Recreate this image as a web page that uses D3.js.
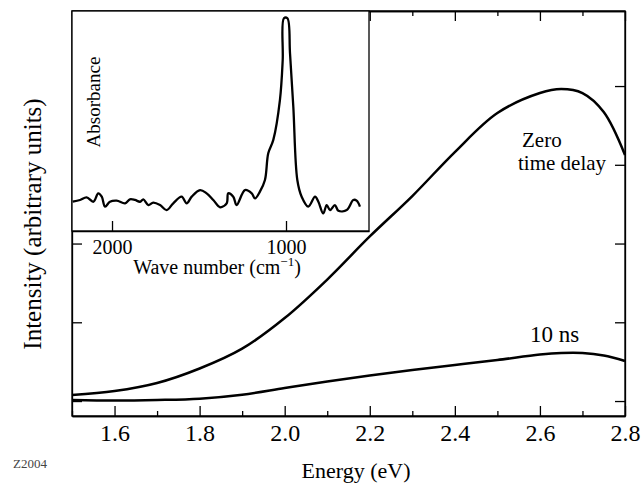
<!DOCTYPE html>
<html>
<head>
<meta charset="utf-8">
<script src="https://cdn.jsdelivr.net/npm/d3@7.9.0/dist/d3.min.js"></script>
<style>
  body { margin: 0; background: #fff; }
  svg text, svg tspan { font-family: "Liberation Serif", "Times New Roman", Times, serif !important; }
</style>
</head>
<body>
<svg width="641" height="487"></svg>
<script>
// main chart: emission intensity vs photon energy
let energy = [1.5, 1.6, 1.7, 1.8, 1.9, 2.0, 2.1, 2.2, 2.3, 2.4, 2.5, 2.6, 2.65, 2.7, 2.75, 2.8];
let zeroDelay = [0.076, 0.127, 0.229, 0.413, 0.665, 1.054, 1.543, 2.09, 2.603, 3.162, 3.657, 3.911, 3.962, 3.911, 3.67, 3.124];
let tenNs = [0.013, 0.006, 0.013, 0.03, 0.08, 0.165, 0.248, 0.324, 0.394, 0.457, 0.521, 0.59, 0.61, 0.61, 0.578, 0.508];
let energyTicks = [1.6, 1.8, 2.0, 2.2, 2.4, 2.6, 2.8];
let energyMinor = [1.5, 1.7, 1.9, 2.1, 2.3, 2.5, 2.7];
let intensityTicks = [0, 1, 2, 3, 4];

// inset: IR absorbance spectrum
let waveNumber = [2226, 2184, 2146, 2107, 2079, 2059, 2040, 2012, 1973, 1925, 1897, 1868, 1839, 1820, 1791, 1763,
  1724, 1686, 1648, 1600, 1571, 1542, 1494, 1456, 1418, 1379, 1341, 1332, 1303, 1284, 1236, 1197, 1178, 1150,
  1121, 1102, 1073, 1035, 1019, 1012, 992, 977, 958, 935, 910, 872, 833, 814, 786, 766, 747, 719, 699, 651, 613, 594, 575];
let absorbance = [0.133, 0.141, 0.153, 0.133, 0.171, 0.156, 0.111, 0.133, 0.138, 0.126, 0.144, 0.141, 0.133, 0.144, 0.118, 0.129,
  0.118, 0.095, 0.126, 0.156, 0.126, 0.156, 0.186, 0.171, 0.141, 0.108, 0.126, 0.171, 0.156, 0.118, 0.186, 0.171, 0.148, 0.179,
  0.232, 0.353, 0.414, 0.595, 0.777, 0.967, 0.967, 0.808, 0.565, 0.232, 0.156, 0.111, 0.156, 0.133, 0.08, 0.118, 0.095, 0.118, 0.092, 0.095, 0.141, 0.138, 0.111];
let waveTicks = [2000, 1000];

const serif = '"Liberation Serif", "Times New Roman", Times, serif';

let svg = d3.select('svg');

let x = d3.scaleLinear().domain([1.5, 2.8]).range([72, 625]);
let y = d3.scaleLinear().domain([-0.19, 4.953]).range([416, 11]);

function styleAxis(g, size) {
  g.attr('font-family', serif).attr('font-size', size);
  g.selectAll('line, path').attr('stroke', '#000').attr('stroke-width', 1.3);
  g.selectAll('text').attr('fill', '#000');
}

// ticks all point inward
svg.append('g').attr('transform', 'translate(0,416)')
  .call(d3.axisBottom(x).tickValues(energyTicks).tickSize(-10).tickSizeOuter(0).tickPadding(8).tickFormat(d3.format('.1f')))
  .call(g => styleAxis(g, 24));
svg.append('g').attr('transform', 'translate(0,416)')
  .call(d3.axisBottom(x).tickValues(energyMinor).tickSize(-5).tickSizeOuter(0).tickFormat(''))
  .call(g => styleAxis(g, 10));
svg.append('g').attr('transform', 'translate(0,11)')
  .call(d3.axisTop(x).tickValues(energyTicks).tickSize(-10).tickSizeOuter(0).tickFormat(''))
  .call(g => styleAxis(g, 10));
svg.append('g').attr('transform', 'translate(0,11)')
  .call(d3.axisTop(x).tickValues(energyMinor).tickSize(-5).tickSizeOuter(0).tickFormat(''))
  .call(g => styleAxis(g, 10));
svg.append('g').attr('transform', 'translate(625,0)')
  .call(d3.axisRight(y).tickValues(intensityTicks).tickSize(-10).tickSizeOuter(0).tickFormat(''))
  .call(g => styleAxis(g, 10));
svg.append('g').attr('transform', 'translate(72,0)')
  .call(d3.axisLeft(y).tickValues(intensityTicks).tickSize(-10).tickSizeOuter(0).tickFormat(''))
  .call(g => styleAxis(g, 10));

// frame
svg.append('rect')
  .attr('x', x(1.5)).attr('y', y(4.953))
  .attr('width', x(2.8) - x(1.5)).attr('height', y(-0.19) - y(4.953))
  .attr('fill', 'none').attr('stroke', '#000').attr('stroke-width', 1.3);

let line = d3.line()
  .x((d) => x(d[0]))
  .y((d) => y(d[1]))
  .curve(d3.curveCatmullRom);

svg.append('path')
  .attr('d', line(d3.zip(energy, zeroDelay)))
  .attr('fill', 'none').attr('stroke', '#000').attr('stroke-width', 2.5);
svg.append('path')
  .attr('d', line(d3.zip(energy, tenNs)))
  .attr('fill', 'none').attr('stroke', '#000').attr('stroke-width', 2.5);

// curve labels
svg.append('text').attr('x', 522).attr('y', 147).attr('font-size', 21).text('Zero');
svg.append('text').attr('x', 518).attr('y', 170).attr('font-size', 21).text('time delay');
svg.append('text').attr('x', 530).attr('y', 342).attr('font-size', 23).text('10 ns');

// axis titles
svg.append('text')
  .attr('x', 356).attr('y', 478).attr('text-anchor', 'middle').attr('font-size', 22)
  .text('Energy (eV)');
svg.append('text')
  .attr('transform', 'translate(41,224) rotate(-90)')
  .attr('text-anchor', 'middle').attr('font-size', 25)
  .text('Intensity (arbitrary units)');
svg.append('text')
  .attr('x', 13).attr('y', 468).attr('font-size', 13).attr('fill', '#444')
  .text('Z2004');

// ---- inset ----
let xi = d3.scaleLinear().domain([2230, 523]).range([72, 369]);
let yi = d3.scaleLinear().domain([0, 1]).range([231, 11]);

let inset = svg.append('g');
inset.append('rect')
  .attr('x', 72).attr('y', 11).attr('width', 369 - 72).attr('height', 231 - 11)
  .attr('fill', '#fff').attr('stroke', '#000').attr('stroke-width', 1.3);

inset.append('g').attr('transform', 'translate(0,231)')
  .call(d3.axisBottom(xi).tickValues(waveTicks).tickSize(-10).tickSizeOuter(0).tickPadding(9).tickFormat(d3.format('d')))
  .call(g => styleAxis(g, 20));

let insetLine = d3.line()
  .x((d) => xi(d[0]))
  .y((d) => yi(d[1]))
  .curve(d3.curveCatmullRom);

inset.append('path')
  .attr('d', insetLine(d3.zip(waveNumber, absorbance)))
  .attr('fill', 'none').attr('stroke', '#000').attr('stroke-width', 2.3)
  .attr('stroke-linejoin', 'round');

inset.append('text')
  .attr('transform', 'translate(100,102) rotate(-90)')
  .attr('text-anchor', 'middle').attr('font-size', 19)
  .text('Absorbance');

let waveLabel = inset.append('text')
  .attr('x', 217).attr('y', 274).attr('text-anchor', 'middle').attr('font-size', 20);
waveLabel.append('tspan').text('Wave number (cm');
waveLabel.append('tspan').attr('font-size', 13).attr('dy', -8).text('\u22121');
waveLabel.append('tspan').attr('dy', 8).text(')');

// serif face set on every text element directly as well
svg.selectAll('text').attr('font-family', serif).style('font-family', serif);
</script>
</body>
</html>
